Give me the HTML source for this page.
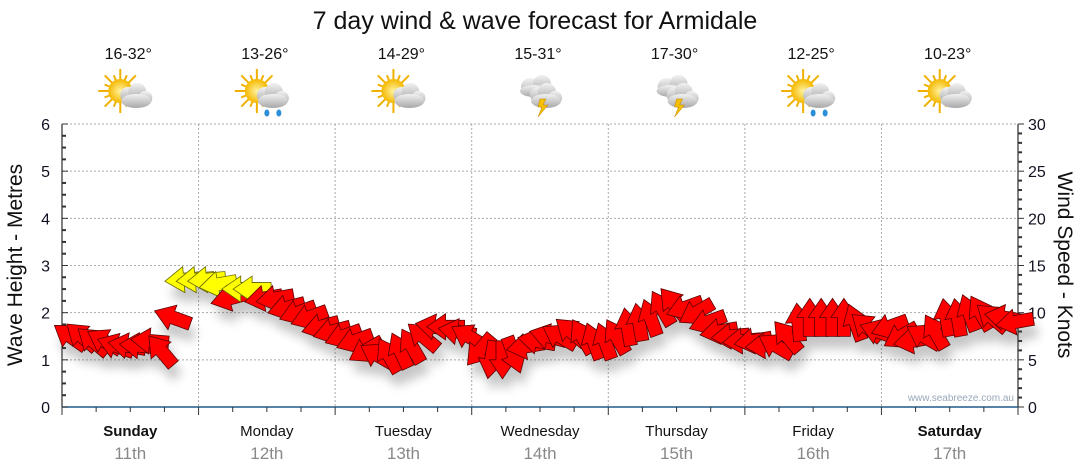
<!DOCTYPE html>
<html><head><meta charset="utf-8"><style>
body{margin:0;background:#fff;}
svg{display:block;font-family:"Liberation Sans",sans-serif;}
</style></head><body>
<svg id="c" width="1080" height="475" viewBox="0 0 1080 475">
<defs>
<filter id="sh" x="-50%" y="-50%" width="200%" height="200%"><feGaussianBlur stdDeviation="5"/></filter>
<radialGradient id="sun" cx="0.5" cy="0.5" r="0.5"><stop offset="0" stop-color="#fff3a0"/><stop offset="1" stop-color="#f5b800"/></radialGradient>
<linearGradient id="cl" x1="0" y1="0" x2="0" y2="1"><stop offset="0" stop-color="#f2f2f2"/><stop offset="1" stop-color="#a8a8a8"/></linearGradient>
</defs>
<text x="535" y="29" text-anchor="middle" font-size="25" fill="#111">7 day wind &amp; wave forecast for Armidale</text>
<g id="grid"></g><g id="axes"></g><g id="icons"></g><g id="shadows" filter="url(#sh)" opacity="0.3"></g><g id="arrows"></g>
<text x="1014" y="401" text-anchor="end" font-size="10" fill="#99a8bb">www.seabreeze.com.au</text>
<text transform="translate(22,265) rotate(-90)" text-anchor="middle" font-size="21" fill="#111">Wave Height - Metres</text>
<text transform="translate(1058,265) rotate(90)" text-anchor="middle" font-size="21" fill="#111">Wind Speed - Knots</text>
</svg>
<script>
const days=["Sunday","Monday","Tuesday","Wednesday","Thursday","Friday","Saturday"];
const dates=["11th","12th","13th","14th","15th","16th","17th"];
const temps=["16-32°","13-26°","14-29°","15-31°","17-30°","12-25°","10-23°"];
const icons=["cloud","rain","cloud","storm","storm","rain","cloud"];
const leftTicks=[0,1,2,3,4,5,6];
const rightTicks=[0,5,10,15,20,25,30];
const windKnots=[7.5,7.5,7,7,6.5,6.5,6.5,7,6,9.5,13.5,13.5,
13.5,13,11.5,12.5,12.5,11.5,11.5,10.5,10,9.5,8.5,8,
7.5,7,6,5.5,5.5,6,6.5,7.5,8.5,8.5,8,7.5,
6,5,5,5.5,6.4,7,7.5,7.5,8,7.5,7,7,
7.5,8.5,9,9.5,10.5,11,10.5,10,9,8,7.5,7,
7,6.5,6.5,7.5,9,9.5,9.5,9.5,9.5,9,8.5,8,
8.5,7.5,7,7.5,8,9.5,9.5,10,10,9.5,9.5,9];
const windDir=[145,140,140,150,160,170,175,175,130,160,185,185,
185,190,195,180,180,190,190,195,200,200,195,195,
200,200,210,150,120,115,120,140,170,180,170,150,
230,260,270,290,190,170,165,150,140,120,110,110,
120,100,100,110,120,130,200,210,200,190,185,185,
190,185,150,130,95,90,90,90,90,110,140,160,
200,210,190,150,120,100,100,110,120,140,170,190];
const X0=62,X1=1018,Y0=407,Y1=124;
const ns="http://www.w3.org/2000/svg";
function xT(i){return X0+(X1-X0)*i/windKnots.length+8;}
function yM(m){return Y0-(Y0-Y1)*m/6;}
function yK(k){return Y0-(Y0-Y1)*k/30;}
function mk(t,a,p){const e=document.createElementNS(ns,t);for(const k in a)e.setAttribute(k,a[k]);(p||document.getElementById('c')).appendChild(e);return e;}
const grid=document.getElementById('grid'),axes=document.getElementById('axes');
const dw=(X1-X0)/7;
for(let i=1;i<=6;i++){const g=mk('line',{x1:X0,x2:X1,y1:yM(i),y2:yM(i),stroke:'#aaa','stroke-dasharray':'2,2'},grid);}
for(let d=1;d<7;d++){const g=mk('line',{x1:X0+d*dw,x2:X0+d*dw,y1:Y1,y2:Y0,stroke:'#aaa','stroke-dasharray':'2,2'},grid);}
mk('line',{x1:X0,x2:X0,y1:Y1,y2:Y0,stroke:'#000'},axes);
mk('line',{x1:X1,x2:X1,y1:Y1,y2:Y0,stroke:'#000'},axes);
mk('line',{x1:X0,x2:X1,y1:Y0,y2:Y0,stroke:'#1f5a8a','stroke-width':1.5},axes);
for(let q=0;q<=24;q++){const m=q/4,y=yM(m),L=q%4==0?6:4;mk('line',{x1:X0,x2:X0+L,y1:y,y2:y,stroke:'#333','stroke-width':q%4?2:1},axes);}
for(let q=0;q<=30;q++){const y=yK(q),L=q%5==0?6:4;mk('line',{x1:X1,x2:X1+L,y1:y,y2:y,stroke:'#333','stroke-width':q%5?2:1},axes);}
for(let q=0;q<=28;q++){const x=X0+q*dw/4;mk('line',{x1:x,x2:x,y1:Y0,y2:Y0+(q%4?5:8),stroke:'#333'},axes);}
leftTicks.forEach(v=>{const t=mk('text',{x:50,y:yM(v)+6,'text-anchor':'end','font-size':16,fill:'#112'},axes);t.textContent=v;});
rightTicks.forEach(v=>{const t=mk('text',{x:1028,y:yK(v)+6,'font-size':16,fill:'#112'},axes);t.textContent=v;});
days.forEach((d,i)=>{const cx=X0+(i+0.5)*dw;
const t=mk('text',{x:cx,y:436,'text-anchor':'middle','font-size':15,fill:'#111','font-weight':(i==0||i==6)?'bold':'normal'},axes);t.textContent=d;
const t2=mk('text',{x:cx,y:459,'text-anchor':'middle','font-size':17,fill:'#888'},axes);t2.textContent=dates[i];
const t3=mk('text',{x:cx-2,y:59,'text-anchor':'middle','font-size':16,fill:'#111'},axes);t3.textContent=temps[i];
const g=mk('g',{transform:`translate(${cx-2},95)`},document.getElementById('icons'));
if(icons[i]!='storm'){for(let r=0;r<16;r++){const a=r*Math.PI/8;mk('line',{x1:-8+Math.cos(a)*10,y1:-4+Math.sin(a)*10,x2:-8+Math.cos(a)*(r%2?17:22),y2:-4+Math.sin(a)*(r%2?17:22),stroke:'#f0b000','stroke-width':2},g);}
mk('circle',{cx:-8,cy:-4,r:12,fill:'url(#sun)'},g);}
else{mk('circle',{cx:-8,cy:-8,r:9,fill:'url(#cl)'},g);mk('circle',{cx:4,cy:-11,r:9,fill:'url(#cl)'},g);mk('ellipse',{cx:-4,cy:-4,rx:14,ry:6,fill:'url(#cl)'},g);}
mk('circle',{cx:0,cy:0,r:8,fill:'url(#cl)'},g);mk('circle',{cx:9,cy:-3,r:9,fill:'url(#cl)'},g);mk('circle',{cx:17,cy:3,r:7,fill:'url(#cl)'},g);mk('ellipse',{cx:8,cy:6,rx:15,ry:7,fill:'url(#cl)'},g);
if(icons[i]=='rain'){mk('ellipse',{cx:2,cy:18,rx:2.5,ry:3.5,fill:'#2a8fd8'},g);mk('ellipse',{cx:14,cy:18,rx:2.5,ry:3.5,fill:'#2a8fd8'},g);}
if(icons[i]=='storm'){mk('polygon',{points:'2,4 8,4 5,10 10,10 0,22 4,12 0,12',fill:'#f5c000',stroke:'#c08000','stroke-width':0.5},g);}
});
const arrowPts="19,0 0,-13 0,-6.5 -19,-6.5 -19,6.5 0,6.5 0,13";
const sh=document.getElementById('shadows'),ar=document.getElementById('arrows');
windKnots.forEach((k,i)=>{const x=xT(i),y=yK(k),a=-windDir[i];
mk('polygon',{points:arrowPts,transform:`translate(${x+4},${y+12}) rotate(${a})`,fill:'#444'},sh);
const p=mk('polygon',{points:arrowPts,transform:`translate(${x},${y}) rotate(${a})`,fill:k>=12?'#ffff00':'#ff0000',stroke:k>=12?'#666600':'#5a0000','stroke-width':0.8},ar);

});
</script>
</body></html>
